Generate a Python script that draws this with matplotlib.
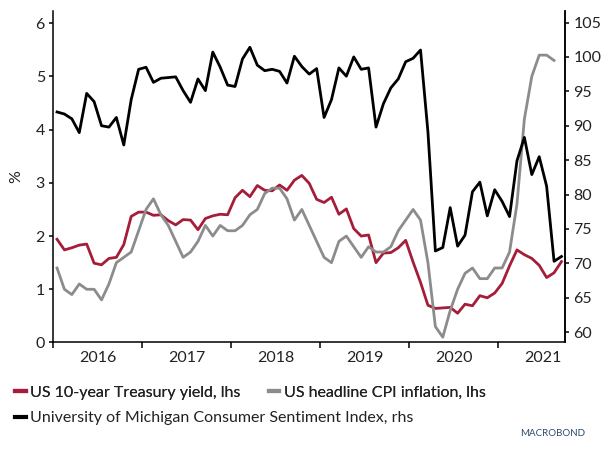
import numpy as np
import matplotlib
matplotlib.use('Agg')
import matplotlib.pyplot as plt
from matplotlib.lines import Line2D

plt.rcParams['font.family'] = ['Lato', 'DejaVu Sans']

# monthly data, Jan 2016 onwards
ust10y = [1.94, 1.74, 1.78, 1.83, 1.85, 1.49, 1.46, 1.58, 1.60, 1.84, 2.37, 2.45,
          2.45, 2.39, 2.40, 2.29, 2.21, 2.31, 2.30, 2.12, 2.33, 2.38, 2.41, 2.40,
          2.72, 2.86, 2.74, 2.95, 2.86, 2.85, 2.96, 2.86, 3.05, 3.14, 2.99, 2.69,
          2.63, 2.73, 2.41, 2.51, 2.14, 2.00, 2.02, 1.50, 1.68, 1.69, 1.78, 1.92,
          1.51, 1.13, 0.70, 0.64, 0.65, 0.66, 0.55, 0.72, 0.69, 0.88, 0.84, 0.93,
          1.11, 1.44, 1.74, 1.65, 1.58, 1.45, 1.22, 1.31, 1.52]
cpi = [1.4, 1.0, 0.9, 1.1, 1.0, 1.0, 0.8, 1.1, 1.5, 1.6, 1.7, 2.1,
       2.5, 2.7, 2.4, 2.2, 1.9, 1.6, 1.7, 1.9, 2.2, 2.0, 2.2, 2.1,
       2.1, 2.2, 2.4, 2.5, 2.8, 2.9, 2.9, 2.7, 2.3, 2.5, 2.2, 1.9,
       1.6, 1.5, 1.9, 2.0, 1.8, 1.6, 1.8, 1.7, 1.7, 1.8, 2.1, 2.3,
       2.5, 2.3, 1.5, 0.3, 0.1, 0.6, 1.0, 1.3, 1.4, 1.2, 1.2, 1.4,
       1.4, 1.7, 2.6, 4.2, 5.0, 5.4, 5.4, 5.3]
umich = [92.0, 91.7, 91.0, 89.0, 94.7, 93.5, 90.0, 89.8, 91.2, 87.2, 93.8, 98.2,
         98.5, 96.3, 96.9, 97.0, 97.1, 95.1, 93.4, 96.8, 95.1, 100.7, 98.5, 95.9,
         95.7, 99.7, 101.4, 98.8, 98.0, 98.2, 97.9, 96.2, 100.1, 98.6, 97.5, 98.3,
         91.2, 93.8, 98.4, 97.2, 100.0, 98.2, 98.4, 89.8, 93.2, 95.5, 96.8, 99.3,
         99.8, 101.0, 89.1, 71.8, 72.3, 78.1, 72.5, 74.1, 80.4, 81.8, 76.9, 80.7,
         79.0, 76.8, 84.9, 88.3, 82.9, 85.5, 81.2, 70.3, 71.0]
years = [2016, 2017, 2018, 2019, 2020, 2021]

labels = ['US 10-year Treasury yield, lhs', 'US headline CPI inflation, lhs',
          'University of Michigan Consumer Sentiment Index, rhs']
red = '#A51D38'
grey = '#8C8C8C'
txt = '#222222'

def month_x(n):
    # plot monthly points at mid-month
    return 2016 + (np.arange(n) + 0.5) / 12

fig = plt.figure(figsize=(6.12, 4.49), dpi=100)
ax = fig.add_axes([0.0871, 0.2372, 0.8364, 0.7372])
ax2 = ax.twinx()

ax.plot(month_x(len(ust10y)), ust10y, color=red, lw=2.0)
ax.plot(month_x(len(cpi)), cpi, color=grey, lw=2.0)
ax2.plot(month_x(len(umich)), umich, color='black', lw=2.0)

ax.set_xlim(2016.0, 2021.75)
ax.set_ylim(0, 6.22)
ax2.set_ylim(58.5, 106.6)
ax.set_yticks(range(0, 7))
ax2.set_yticks(range(60, 106, 5))

ax.set_xticks(years)
ax.set_xticklabels([])
ax.set_xticks([y + 0.5 for y in years], minor=True)
ax.set_xticklabels([str(y) for y in years], minor=True)
ax.tick_params(axis='x', which='major', length=4, width=1.1, direction='out')
ax.tick_params(axis='x', which='minor', length=0, pad=6, labelsize=11.5, labelcolor=txt)
ax.tick_params(axis='y', length=3, width=1.1, pad=3, labelsize=11.5, labelcolor=txt)
ax2.tick_params(axis='y', length=3, width=1.1, pad=3, labelsize=11.5, labelcolor=txt)

for a in (ax, ax2):
    a.spines['top'].set_visible(False)
    for s in ('left', 'right', 'bottom'):
        a.spines[s].set_linewidth(1.1)
ax2.spines['left'].set_visible(False)
ax2.spines['bottom'].set_visible(False)

ax.set_ylabel('%', fontsize=11.5, color=txt)
ax.yaxis.set_label_coords(-0.059, 0.5)

h_red = Line2D([], [], color=red, lw=3)
h_grey = Line2D([], [], color=grey, lw=3)
h_black = Line2D([], [], color='black', lw=3)
leg1 = fig.legend([h_red, h_grey], labels[:2], ncol=2, loc='center left',
                  bbox_to_anchor=(0.025, 0.1254), frameon=False, fontsize=11.5,
                  handlelength=0.65, handletextpad=0.3, columnspacing=1.75,
                  borderaxespad=0, borderpad=0, labelcolor=txt)
fig.legend([h_black], labels[2:], loc='center left',
           bbox_to_anchor=(0.025, 0.069), frameon=False, fontsize=11.5,
           handlelength=0.65, handletextpad=0.3, borderaxespad=0, borderpad=0,
           labelcolor=txt)
fig.add_artist(leg1)

fig.text(0.956, 1 - 434 / 449, 'MACROBOND', ha='right', va='center',
         fontsize=7, color='#2E4D6B')

fig.savefig('out.png', dpi=100)
